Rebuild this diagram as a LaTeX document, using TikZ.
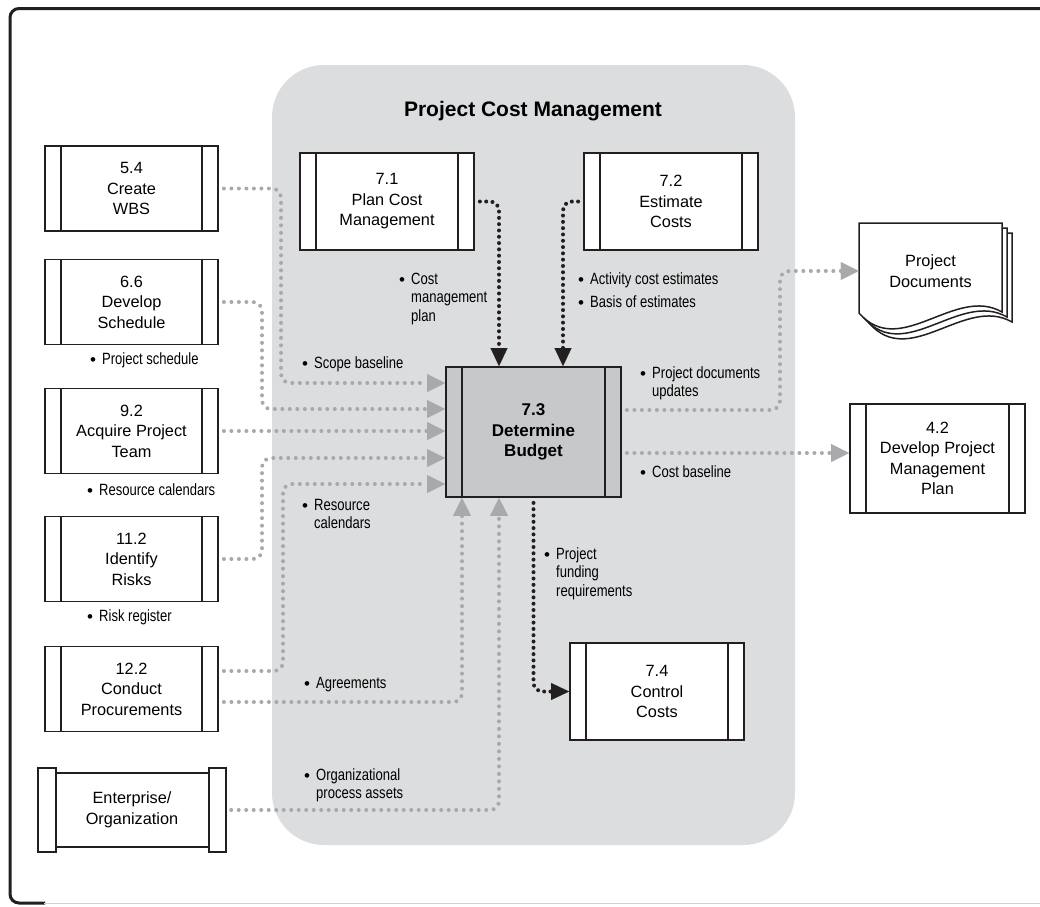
\documentclass[tikz,border=0pt]{standalone}
\usepackage{fontspec}
\setmainfont{Liberation Sans}
\newfontfamily\condfont[FakeStretch=0.8]{Liberation Sans}
\newfontfamily\bulfont{Liberation Sans}
\usetikzlibrary{arrows.meta}
\definecolor{lc}{RGB}{35,31,32}
\definecolor{regfill}{RGB}{220,221,222}
\definecolor{cmid}{RGB}{199,200,202}
\definecolor{cgray}{RGB}{167,169,172}
\definecolor{framebot}{RGB}{210,210,210}
\newcommand\mybul{\makebox[12pt][l]{\raisebox{-1pt}{\bulfont\fontsize{17}{17}\selectfont\char"2022}}}
\newcommand\myind{\hspace*{12pt}}
\newcommand\lbltab[1]{\begin{tabular}[t]{@{}l@{}}#1\end{tabular}}
\begin{document}
\begin{tikzpicture}[x=1pt,y=-1pt,
  proc/.style={draw=lc,line width=1.8pt,fill=white,minimum width=173pt,minimum height=85pt,inner sep=0pt,align=center,
    font=\fontsize{16.3}{20.5}\selectfont,
    path picture={\draw[lc,line width=1.6pt]
      ([xshift=16pt]path picture bounding box.north west) -- ([xshift=16pt]path picture bounding box.south west)
      ([xshift=-16pt]path picture bounding box.north east) -- ([xshift=-16pt]path picture bounding box.south east);}},
  lbl/.style={anchor=base west,inner sep=0pt,font=\condfont\fontsize{16.3}{18.5}\selectfont},
  gdot/.style={draw=cgray,line width=4pt,line cap=round,dash pattern=on 0pt off 7.5pt,rounded corners=9pt,shorten <=5pt,
    -{Triangle[length=18pt,width=18pt,line width=0.1pt]}},
  bdot/.style={draw=lc,line width=4pt,line cap=round,dash pattern=on 0pt off 6.3pt,rounded corners=9pt,shorten <=5pt,
    -{Triangle[length=18pt,width=17pt,line width=0.1pt]}},
  sheet/.style={draw=lc,line width=1.5pt,fill=white}
]
\useasboundingbox (0,0) rectangle (1040,906);
% frame
\draw[lc,line width=3pt,rounded corners=9pt] (1050,8.5) -- (10,8.5) -- (10,903) -- (45,903);
\draw[framebot,line width=1.5pt] (44,903.5) -- (1050,903.5);
% region
\fill[regfill,rounded corners=52pt] (272,65) rectangle (795,845);
\node[font=\bfseries\fontsize{21}{24}\selectfont] (title) at (533,111) {Project Cost Management};

% process boxes
\node[proc] (b54) at (131.5,188.5) {5.4\\Create\\WBS};
\node[proc] (b66) at (131.5,302) {6.6\\Develop\\Schedule};
\node[proc] (b92) at (131.5,431) {9.2\\Acquire Project\\Team};
\node[proc] (b112) at (131.5,559) {11.2\\Identify\\Risks};
\node[proc] (b122) at (131.5,689) {12.2\\Conduct\\Procurements};
\node[proc,minimum width=174pt,minimum height=97pt] (b71) at (387,201.5) {7.1\\Plan Cost\\Management};
\node[proc,minimum width=174pt,minimum height=97pt] (b72) at (671,201.5) {7.2\\Estimate\\Costs};
\node[proc,fill=cmid,minimum width=175pt,minimum height=130pt,font=\bfseries\fontsize{17}{20.5}\selectfont] (b73) at (533.5,432) {7.3\\Determine\\Budget};
\node[proc,minimum width=174pt,minimum height=97pt] (b74) at (657,691.5) {7.4\\Control\\Costs};
\node[proc,minimum width=175pt,minimum height=109pt] (b42) at (937.5,458.5) {4.2\\Develop Project\\Management\\Plan};

% enterprise
\draw[lc,line width=1.8pt,fill=white] (56,773) rectangle (209,847);
\draw[lc,line width=1.8pt,fill=white] (38,768) rectangle (56,852);
\draw[lc,line width=1.8pt,fill=white] (209,768) rectangle (226,852);
\node[minimum width=188pt,minimum height=84pt,inner sep=0pt,align=center,font=\fontsize{16.3}{20.5}\selectfont] (ent) at (132,810) {Enterprise/\\Organization};

% project documents
\foreach \d in {10,5,0}{
  \draw[sheet,shift={(\d,\d)}] (859,313) -- (859,223) -- (1002,223) -- (1002,312)
     .. controls (955,285) and (900,360) .. (859,313) -- cycle;
}
\node[minimum width=143pt,minimum height=90pt,inner sep=0pt,align=center,font=\fontsize{16.3}{20.5}\selectfont] (doc) at (930.5,271) {Project\\Documents};

% gray input connectors
\draw[gdot] (b54.east) -| (281,383) -- (b73.west |- 0,383);
\draw[gdot] (b66.east) -| (262,409) -- (b73.west |- 0,409);
\draw[gdot] (b92.east) -- (b92.east -| b73.west);
\draw[gdot] (b112.east) -| (262,458) -- (b73.west |- 0,458);
\draw[gdot] ([yshift=18pt]b122.east) -| (283,484) -- (b73.west |- 0,484);
\draw[gdot] ([yshift=-13pt]b122.east) -| (b73.south -| 462,0);
\draw[gdot] (ent.east) -| (b73.south -| 499,0);
% gray outputs
\draw[gdot] ([yshift=22pt]b73.east) -| (780,271) -- (doc.west);
\draw[gdot] (b73.east |- 0,453) -- (b42.west |- 0,453);
% black connectors
\draw[bdot] (b71.east) -| (b73.north -| 499,0);
\draw[bdot] (b72.west) -| (b73.north -| 563,0);
\draw[bdot] (b73.south) |- (b74.west);

% labels
\node[lbl] (lps) at (90,364) {\lbltab{\mybul Project schedule}};
\node[lbl] (lrc1) at (87,495) {\lbltab{\mybul Resource calendars}};
\node[lbl] (lrr) at (87,621) {\lbltab{\mybul Risk register}};
\node[lbl] (lsb) at (302,368) {\lbltab{\mybul Scope baseline}};
\node[lbl] (lrc2) at (302,510) {\lbltab{\mybul Resource\\\myind calendars}};
\node[lbl] (lcmp) at (399,284) {\lbltab{\mybul Cost\\\myind management\\\myind plan}};
\node[lbl] (lace) at (578,284) {\lbltab{\mybul Activity cost estimates}};
\node[lbl] (lboe) at (578,307) {\lbltab{\mybul Basis of estimates}};
\node[lbl] (lpdu) at (640,378) {\lbltab{\mybul Project documents\\\myind updates}};
\node[lbl] (lcb) at (640,477) {\lbltab{\mybul Cost baseline}};
\node[lbl] (lpfr) at (544,559) {\lbltab{\mybul Project\\\myind funding\\\myind requirements}};
\node[lbl] (lagr) at (304,688) {\lbltab{\mybul Agreements}};
\node[lbl] (lopa) at (304,780) {\lbltab{\mybul Organizational\\\myind process assets}};
\end{tikzpicture}
\end{document}
